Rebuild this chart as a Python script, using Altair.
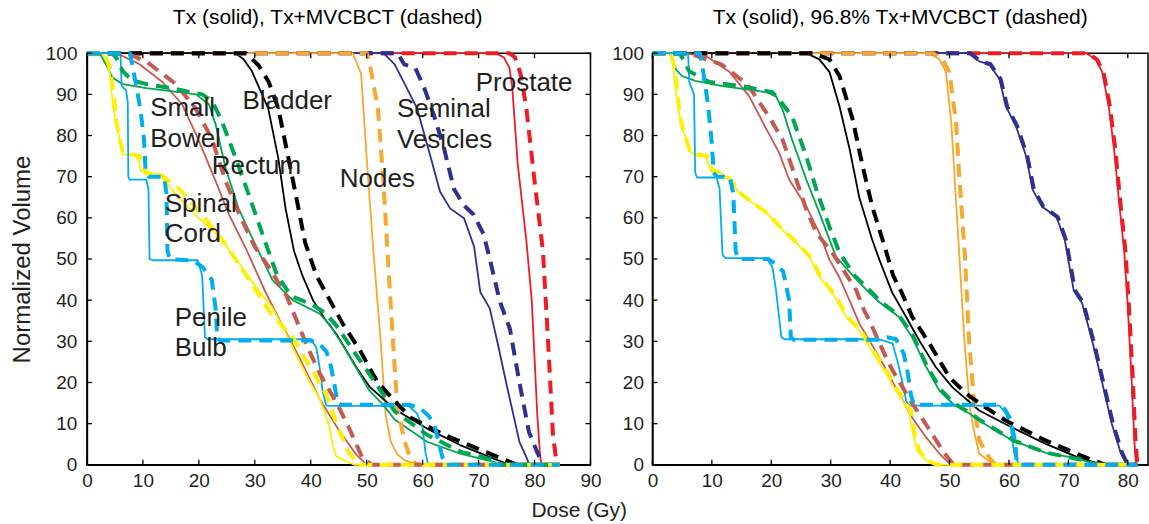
import altair as alt
import pandas as pd

# ---------------- categories / styles ----------------
STRUCTURES = ["Prostate", "Seminal Vesicles", "Nodes", "Bladder", "Rectum",
              "Small Bowel", "Spinal Cord", "Penile Bulb"]
COLORS = ["#ED1C24", "#2E3192", "#F7A830", "#000000", "#C55A52",
          "#00A651", "#FFEF00", "#00AEEF"]
PLANS = ["Tx", "Tx+MVCBCT"]

TITLE_LEFT = "Tx (solid), Tx+MVCBCT (dashed)"
TITLE_RIGHT = "Tx (solid), 96.8% Tx+MVCBCT (dashed)"
X_TICKS_LEFT = [0, 10, 20, 30, 40, 50, 60, 70, 80, 90]
X_TICKS_RIGHT = [0, 10, 20, 30, 40, 50, 60, 70, 80]
Y_TICKS = [0, 10, 20, 30, 40, 50, 60, 70, 80, 90, 100]

# ---------------- left panel curves: (dose Gy, volume %) ----------------
L_TX_PROSTATE = [(0,100),(73,100),(74.5,99),(75.5,96.5),(76,92),(77,73),(78.5,55),(79.5,40),(80.5,12),(81,2),(81.3,0),(84.5,0)]
L_MV_PROSTATE = [(0,100),(75.5,100),(76.5,99),(77.5,95),(78.5,87),(80,69),(81.5,52),(82.5,28),(83.3,7),(84,0),(84.5,0)]
L_TX_SEMINAL = [(0,100),(53,100),(55,97.3),(57,92),(59,86.6),(61.3,75.4),(63.1,66.4),(64.9,62.3),(67.4,59.9),(69.2,53),(70.3,42),(72,38),(73.5,29),(75,19.5),(77.3,5.6),(78.5,2),(79.1,0),(84.5,0)]
L_MV_SEMINAL = [(0,100),(55.5,100),(56.7,97.3),(58.7,96.4),(60.3,91.5),(62,85),(63.8,77),(65.6,67),(67.4,63),(69.1,60.8),(70.9,56),(72,50),(72.7,46),(73.8,39.7),(75.6,33),(77.3,20),(79,8),(80.5,3),(81.6,0),(84.5,0)]
L_TX_NODES = [(0,100),(47.5,100),(49,95),(50.2,70.6),(51.2,52),(52.5,30),(53.4,12),(54.3,5.6),(55.5,2.5),(56.7,1.2),(59,0),(84.5,0)]
L_MV_NODES = [(0,100),(50,100),(50.6,97),(52,86.6),(52.9,70.6),(53.8,50),(54.7,30),(55.5,13.6),(56.8,5.6),(57.7,2),(58.5,0.5),(59.5,0),(84.5,0)]
L_TX_BLADDER = [(0,100),(26.6,100),(28,98.5),(29.5,95.6),(32.4,86.6),(34.2,74.5),(35.5,62.3),(37,52),(38.5,46),(40.4,40),(42.5,35.5),(44.6,31.7),(48.2,23.6),(50.5,19),(55,13.5),(60.8,8.8),(66.7,4.8),(72.7,1.5),(75.6,0),(84.5,0)]
L_MV_BLADDER = [(0,100),(28.4,100),(30.7,97),(32.5,93),(34.2,86.6),(36.6,70.6),(39,54),(41,46),(43.4,40),(45.7,34.3),(48.8,27.8),(50.5,23.6),(52,20),(55,15.5),(57.8,11.5),(63.8,7.3),(69.7,4),(75.6,0.7),(77,0),(84.5,0)]
L_TX_RECTUM = [(0,100),(5.3,100),(9.4,97.3),(13.5,93),(17,87.6),(19.5,80.3),(21.3,74.5),(23,68.9),(25.4,60.8),(28.4,52.6),(31.9,42),(34.5,35),(38,26),(41.6,16),(45.2,8),(48.2,2.4),(50,0),(84.5,0)]
L_MV_RECTUM = [(0,100),(7,100),(10.6,98),(15.9,92.5),(19.4,86.6),(22.3,79.3),(24.8,68.9),(27.5,60),(30,53),(32.5,48),(35.7,41),(39.3,29),(41.6,22.2),(44.8,14.6),(47,8.5),(49.3,1.5),(51,0),(84.5,0)]
L_TX_BOWEL = [(0,100),(2.3,100),(3.5,97),(4.6,94),(6.4,92.5),(10.6,91.5),(15.3,90.7),(19.5,90),(21.8,87.6),(23,82.7),(24.8,72),(27.1,62.3),(30.1,53.5),(33.2,44.8),(36.8,40),(41.6,36.7),(43.4,34),(46,28.5),(50.5,18),(53,14.5),(55,11),(60.8,5.6),(66.7,2.7),(72.7,0.7),(74,0),(84.5,0)]
L_MV_BOWEL = [(0,100),(4.5,100),(5.3,98.8),(6.4,95.6),(8,93.5),(10.6,92.5),(15,91.5),(20.6,90),(22.4,88.3),(24.1,83.5),(26.6,74.5),(28.9,65.7),(31.9,54),(34,46),(36.5,41),(40.1,39),(42.5,37),(44.5,34),(46,31),(49,25),(50.5,22),(55,13),(60.8,7.3),(66.7,3.2),(72.7,1.2),(74,0),(84.5,0)]
L_TX_CORD = [(0,100),(2.7,100),(3.5,98),(4.1,95),(4.7,86.6),(5.9,78.6),(6.4,75.4),(8.8,75),(9.3,73.5),(9.7,71.3),(12.9,70.6),(15.9,65.7),(20,59.9),(23.6,55.5),(26.6,50),(31.2,41.4),(33,38.5),(35,33.5),(38,25.1),(39.8,20.2),(41.6,16.1),(42.5,12.9),(43.4,8.8),(43.9,4.9),(44.6,2),(46.4,0.8),(47.9,0),(84.5,0)]
L_MV_CORD = [(0,100),(3,100),(4,97),(4.7,90.7),(5.3,82.7),(6.4,76),(9.4,75),(10.6,70.8),(12.9,70.8),(16.5,67),(20.6,60.8),(24.8,53.5),(28.4,46.2),(33,36.5),(36.8,31),(39.8,24),(42.8,17),(44.6,10),(46.6,3.4),(48.5,0),(84.5,0)]
L_TX_BULB = [(0,100),(6,100),(6.2,92),(7,91),(7.3,88),(7.4,70),(7.6,69.3),(10.6,69.3),(11,67),(11.2,50),(11.8,49.7),(19.8,49.7),(20.6,46),(21.1,31),(21.6,30.5),(40,30.5),(41,28.5),(41.6,23.6),(42.1,18),(42.8,14.4),(43.5,14.3),(57.5,14.3),(59,12.5),(60,9),(60.5,3),(61,0),(84.5,0)]
L_MV_BULB = [(0,100),(7.7,100),(8.4,95),(8.9,91.5),(9.6,86),(10.2,79),(10.5,71),(11,70),(13.8,70),(14.2,66),(14.4,52),(14.8,50),(19,49.6),(20.7,48),(22.3,45),(23,38),(23.3,30.5),(24,30.2),(40,30.2),(41.5,29.5),(42.8,27.5),(43.6,24),(44.3,19),(44.8,15),(45.5,14.6),(57.5,14.6),(59.5,13.8),(61,12),(62,10),(62.8,6),(63.5,2),(64,0),(84.5,0)]

# ---------------- right panel curves ----------------
R_TX_PROSTATE = [(0,100),(73,100),(74.6,98.5),(75.7,95.4),(76.8,87),(77.7,76.6),(78.5,64.4),(79.4,52),(80,38.3),(80.6,22),(81.1,5.9),(81.4,0),(81.6,0)]
R_MV_PROSTATE = [(0,100),(73.2,100),(74.8,98.5),(75.9,95.4),(77,87),(77.9,76.6),(78.7,64.4),(79.6,52),(80.2,38.3),(80.8,22),(81.3,5.9),(81.6,0)]
R_TX_SEMINAL = [(0,100),(53.3,100),(55,98),(56.7,97.3),(58.4,93.7),(59.5,87),(61.2,82.2),(62.9,74.9),(64,66.8),(65.6,62.7),(68,60.2),(69.4,54.6),(70.9,42.4),(72.3,39.3),(74,30.2),(75.6,20.5),(77.3,10),(78.8,3),(79.7,0.3),(81.6,0)]
R_MV_SEMINAL = [(0,100),(53.5,100),(55.2,98),(56.9,97.3),(58.6,93.7),(59.7,87),(61.4,82.2),(63.1,74.9),(64.2,66.8),(65.8,62.7),(68.2,60.2),(69.6,54.6),(71.1,42.4),(72.5,39.3),(74.2,30.2),(75.8,20.5),(77.5,10),(79,3),(79.9,0.3),(81.6,0)]
R_TX_NODES = [(0,100),(46.6,100),(48.3,98.5),(49.4,95.4),(50.3,83),(50.8,71),(51.6,52),(52.5,30.2),(53.4,13.9),(54.2,7.6),(55,2.7),(57.2,0.3),(81.6,0)]
R_MV_NODES = [(0,100),(47.2,100),(48.8,98.5),(50,95.4),(51.1,83),(51.6,71),(52.6,50.5),(53.3,30),(54.2,14),(55,5.9),(56.7,1.7),(57.8,0),(81.6,0)]
R_TX_BLADDER = [(0,100),(25.9,100),(28.1,98.5),(29.8,95.4),(31.5,87),(33.2,76.6),(34.8,65),(37,54.6),(38.2,49.8),(40.3,42),(42.7,35.9),(44.9,30.2),(47.7,23.7),(50.5,18.8),(55,13.2),(60.6,9),(66.2,5.1),(71.8,1.7),(75.1,0.3),(81.6,0)]
R_MV_BLADDER = [(0,100),(27,100),(29.8,98.5),(31.5,94.4),(33.7,83.9),(35.4,72.4),(37,62.7),(39.4,51.5),(40.5,46),(42,41.7),(43.7,36),(46.6,29.5),(50,21.2),(52.8,17.3),(55.5,14.5),(59.5,10.7),(66.2,5.9),(73.4,1.5),(76.3,0),(81.6,0)]
R_TX_RECTUM = [(0,100),(5,100),(9,99.3),(13,95.4),(16.3,89.5),(19.2,81.5),(21.3,75.9),(23,69.3),(25.9,62.7),(28.1,56.3),(29.8,49.8),(31.3,46),(33,40.5),(34.8,34.4),(38.2,26.1),(41.5,17.3),(43.7,11.5),(46.1,6.6),(48.3,2.7),(50,0.3),(81.6,0)]
R_MV_RECTUM = [(0,100),(6,100),(11.6,97.3),(16,92.4),(19.7,84.4),(21.9,79),(24.2,69.3),(25.9,62),(27.6,56.3),(30.3,51.5),(31.4,49),(34.3,42.4),(35.6,37.6),(36.5,35.1),(39.3,26.1),(40.4,23),(43.2,16.1),(46.5,8.8),(49.1,2.9),(50.7,0),(81.6,0)]
R_TX_BOWEL = [(0,100),(2.9,100),(4,96),(5,94.4),(7.4,93.2),(11.8,92),(15.8,91.2),(19.2,90.5),(20.8,89.5),(21.9,86.3),(23.5,79),(25.9,69.3),(28.1,61.2),(30.9,50.5),(33.7,46),(36,42.5),(38.2,39.5),(41.5,35.9),(43.7,31),(46.1,23.7),(48.3,18),(50.5,14.9),(53.4,12.4),(55,10.7),(60.6,5.9),(66.2,2.9),(71.8,1.5),(74.6,0),(81.6,0)]
R_MV_BOWEL = [(0,100),(4.5,100),(5,99),(6.2,95.6),(9.6,93),(15,92),(20.2,90.5),(21.3,88.8),(23.5,84.6),(25.9,74.9),(27.6,66.8),(29.8,57.8),(31.5,51.5),(34,46),(36.5,42.5),(38.5,39.5),(41.5,36.3),(43.8,31.5),(46.2,24),(48.5,18.3),(50.7,15),(53.6,12.4),(55.3,10.7),(60.8,5.9),(66.4,2.9),(72,1.3),(74.8,0),(81.6,0)]
R_TX_CORD = [(0,100),(2.9,100),(3.3,98.5),(3.7,94),(4.2,87.6),(5,81.9),(5.6,79.5),(6.2,76.1),(7.2,75.4),(8.9,75.2),(9.8,71.7),(11.3,71.2),(13,69.3),(14.6,66),(16.8,63.7),(19.2,61.2),(21.3,57.8),(24.2,53.9),(26.4,50.5),(28.1,45.6),(30.3,41.7),(32.6,36),(34.8,32.5),(37,27.5),(39.4,22),(41,18),(42.1,15.6),(43.2,13),(43.7,8.3),(44.6,3.4),(46.1,1),(47.6,0),(81.6,0)]
R_MV_CORD = [(0,100),(3.1,100),(3.6,97),(4.1,92),(4.6,85),(5.3,80.5),(6.4,76),(7.4,75.4),(9.2,75),(10,71.5),(11.5,71),(13.3,69),(15,65.8),(17,63.5),(19.5,61),(21.6,57.6),(24.5,53.7),(26.7,50.3),(28.4,45.4),(30.6,41.5),(32.9,35.8),(35.1,32.5),(37.3,27.5),(39.7,22),(41.3,18),(42.4,15.6),(43.5,13),(44,8.3),(44.9,3.4),(46.4,1),(48,0),(81.6,0)]
R_TX_BULB = [(0,100),(6,100),(6.2,93),(6.6,91.5),(7,90),(7.2,71),(7.5,69.8),(10.8,69.8),(11.3,67),(11.8,51),(12.3,50.2),(19.2,50.2),(20.2,48),(20.8,42.4),(21.7,31),(22.2,30.5),(38.2,30.5),(40.4,29.5),(41.2,25.4),(42,20.5),(42.7,15.6),(43.2,14.4),(58.4,14.4),(59.5,12.4),(60.3,9),(60.9,2.7),(61.7,0),(81.6,0)]
R_MV_BULB = [(0,100),(8,100),(8.6,95),(9.4,87),(10,78),(10.3,71),(10.8,70),(13,70),(13.6,66),(14,52),(14.4,50),(19.5,50),(20.5,49),(22,47),(23,40),(23.3,31),(23.8,30.4),(38,30.4),(39.5,31),(41,30.5),(42.3,27),(43,22),(43.5,17),(44,14.6),(58,14.6),(59.3,13.5),(60.3,11),(61,6),(61.3,1),(61.6,0),(81.6,0)]

# ---------------- annotation labels (left panel) ----------------
LABEL_TEXT = ["Small", "Bowel", "Rectum", "Bladder", "Nodes", "Seminal", "Vesicles",
              "Prostate", "Spinal", "Cord", "Penile", "Bulb"]
LABEL_DOSE = [11.3, 11.3, 22.3, 27.8, 45.2, 55.4, 55.4, 69.5, 13.9, 13.9, 15.7, 15.7]
LABEL_VOL = [86.7, 79.2, 72.7, 88.4, 69.4, 86.5, 79.0, 92.7, 63.3, 56.0, 35.7, 28.4]

LEFT = {
    ("Prostate", "Tx"): L_TX_PROSTATE, ("Prostate", "Tx+MVCBCT"): L_MV_PROSTATE,
    ("Seminal Vesicles", "Tx"): L_TX_SEMINAL, ("Seminal Vesicles", "Tx+MVCBCT"): L_MV_SEMINAL,
    ("Nodes", "Tx"): L_TX_NODES, ("Nodes", "Tx+MVCBCT"): L_MV_NODES,
    ("Bladder", "Tx"): L_TX_BLADDER, ("Bladder", "Tx+MVCBCT"): L_MV_BLADDER,
    ("Rectum", "Tx"): L_TX_RECTUM, ("Rectum", "Tx+MVCBCT"): L_MV_RECTUM,
    ("Small Bowel", "Tx"): L_TX_BOWEL, ("Small Bowel", "Tx+MVCBCT"): L_MV_BOWEL,
    ("Spinal Cord", "Tx"): L_TX_CORD, ("Spinal Cord", "Tx+MVCBCT"): L_MV_CORD,
    ("Penile Bulb", "Tx"): L_TX_BULB, ("Penile Bulb", "Tx+MVCBCT"): L_MV_BULB,
}
RIGHT = {
    ("Prostate", "Tx"): R_TX_PROSTATE, ("Prostate", "Tx+MVCBCT"): R_MV_PROSTATE,
    ("Seminal Vesicles", "Tx"): R_TX_SEMINAL, ("Seminal Vesicles", "Tx+MVCBCT"): R_MV_SEMINAL,
    ("Nodes", "Tx"): R_TX_NODES, ("Nodes", "Tx+MVCBCT"): R_MV_NODES,
    ("Bladder", "Tx"): R_TX_BLADDER, ("Bladder", "Tx+MVCBCT"): R_MV_BLADDER,
    ("Rectum", "Tx"): R_TX_RECTUM, ("Rectum", "Tx+MVCBCT"): R_MV_RECTUM,
    ("Small Bowel", "Tx"): R_TX_BOWEL, ("Small Bowel", "Tx+MVCBCT"): R_MV_BOWEL,
    ("Spinal Cord", "Tx"): R_TX_CORD, ("Spinal Cord", "Tx+MVCBCT"): R_MV_CORD,
    ("Penile Bulb", "Tx"): R_TX_BULB, ("Penile Bulb", "Tx+MVCBCT"): R_MV_BULB,
}

FONT = "Liberation Sans"
H = 412


def to_frame(curves):
    rows = []
    for (struct, plan), pts in curves.items():
        for i, (d, v) in enumerate(pts):
            rows.append({"structure": struct, "plan": plan, "dose": d,
                         "volume": v, "idx": i})
    return pd.DataFrame(rows)


def panel(curves, title, xmax, width, xticks, ytitle, labels=None, right_ticks=True,
          title_dx=0):
    df = to_frame(curves)
    xs = alt.Scale(domain=[0, xmax], nice=False, zero=False)
    ys = alt.Scale(domain=[0, 100], nice=False)
    xaxis = alt.Axis(values=xticks, title=None, ticks=False, labelPadding=7,
                     labelFlush=False)
    if ytitle:
        yaxis = alt.Axis(values=Y_TICKS, title=ytitle, ticks=False, labelPadding=10,
                         titlePadding=11)
    else:
        yaxis = alt.Axis(values=Y_TICKS, title=None, ticks=False, labelPadding=9)
    color = alt.Color("structure:N", scale=alt.Scale(domain=STRUCTURES, range=COLORS),
                      legend=None)
    base = alt.Chart(df).encode(
        x=alt.X("dose:Q", scale=xs, axis=xaxis),
        y=alt.Y("volume:Q", scale=ys, axis=yaxis),
        color=color,
        order=alt.Order("idx:Q"),
    )
    solid = base.transform_filter(alt.datum.plan == "Tx").mark_line(
        strokeWidth=1.8, strokeJoin="round")
    dashed = base.transform_filter(alt.datum.plan == "Tx+MVCBCT").mark_line(
        strokeWidth=4, strokeDash=[13, 8], strokeJoin="round")

    xt = pd.DataFrame({"dose": xticks})
    yt = pd.DataFrame({"volume": Y_TICKS})
    tick = dict(color="black", strokeWidth=1.3)
    bt = alt.Chart(xt).mark_rule(**tick).encode(
        x=alt.X("dose:Q", scale=xs), y=alt.value(H), y2=alt.value(H - 5))
    tt = alt.Chart(xt).mark_rule(**tick).encode(
        x=alt.X("dose:Q", scale=xs), y=alt.value(0), y2=alt.value(5))
    lt = alt.Chart(yt).mark_rule(**tick).encode(
        y=alt.Y("volume:Q", scale=ys), x=alt.value(0), x2=alt.value(5))
    layers = [solid, dashed, bt, tt, lt]
    if right_ticks:
        rt = alt.Chart(yt).mark_rule(**tick).encode(
            y=alt.Y("volume:Q", scale=ys), x=alt.value(width), x2=alt.value(width - 5))
        layers.append(rt)
    if labels is not None:
        txt = alt.Chart(labels).mark_text(
            align="left", baseline="middle", font=FONT, fontSize=26, color="#231F20"
        ).encode(x=alt.X("dose:Q", scale=xs), y=alt.Y("volume:Q", scale=ys),
                 text="label:N")
        layers.append(txt)
    return alt.layer(*layers).properties(
        width=width, height=H,
        title=alt.TitleParams(text=title, fontSize=21, font=FONT, fontWeight="normal",
                              color="black", offset=16, dx=title_dx),
    )


labels_df = pd.DataFrame({"label": LABEL_TEXT, "dose": LABEL_DOSE, "volume": LABEL_VOL})

left = panel(LEFT, TITLE_LEFT, 90, 504, X_TICKS_LEFT, "Normalized Volume", labels_df,
             title_dx=-11)
right = panel(RIGHT, TITLE_RIGHT, 83.4, 496, X_TICKS_RIGHT, None, None, right_ticks=False)

chart = alt.hconcat(left, right, spacing=8).properties(
    title=alt.TitleParams(text="Dose (Gy)", orient="bottom", anchor="middle",
                          fontSize=21, font=FONT, fontWeight="normal", color="#231F20",
                          offset=8),
    padding={"left": 9, "top": 6, "right": 0, "bottom": 4},
).configure_view(stroke="black", strokeWidth=1.5).configure_axis(
    domainColor="black", domainWidth=1.5, grid=False,
    labelFont=FONT, labelFontSize=19, labelColor="#231F20",
    titleFont=FONT, titleFontSize=24, titleFontWeight="normal", titleColor="#231F20",
).configure_concat(spacing=8)

chart.save("out.html", embed_options={"renderer": "svg", "actions": False})
